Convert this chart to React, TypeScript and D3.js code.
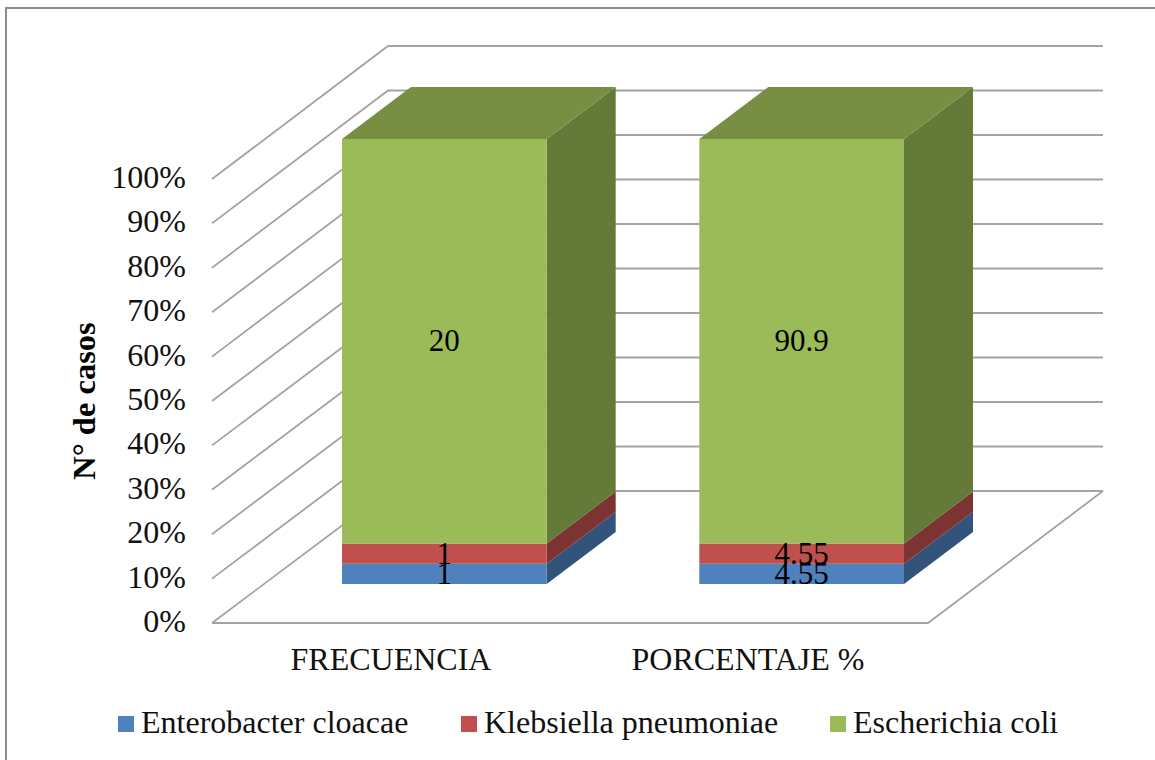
import React from "react";
import * as d3 from "d3";

const categories = ["FRECUENCIA", "PORCENTAJE %"];
const seriesNames = ["Enterobacter cloacae", "Klebsiella pneumoniae", "Escherichia coli"];
const frecuencia = [1, 1, 20];
const porcentaje = [4.55, 4.55, 90.9];
const frontColors = ["#4f81bd", "#c0504d", "#9bbb59"];
const sideColors = ["#33547a", "#7c3331", "#647a38"];
const topColor = "#788f43";
const ticks = d3.range(0, 101, 10);
const font = "'Liberation Serif','Times New Roman',serif";

const dx = 69, dy = -52;

export default function App() {
  const wallY = d3.scaleLinear().domain([0, 100]).range([623, 179]);
  const backY = d3.scaleLinear().domain([0, 100]).range([491, 46]);
  const barY = d3.scaleLinear().domain([0, 100]).range([584, 139]);
  const x = d3.scaleBand().domain(categories).range([342, 904]).paddingInner(152.5 / 357).paddingOuter(0);
  const rows = [frecuencia, porcentaje];
  const stacks = rows.map(r => {
    const total = d3.sum(r);
    let c = 0;
    return r.map(v => { const a = (c / total) * 100; c += v; return { v, a, b: (c / total) * 100 }; });
  });
  const barW = x.bandwidth();
  const labelX = [391, 748];
  const legendX = [118, 461, 830];
  const legendText = [141, 484, 853];
  return (
    <svg width={1155} height={760} style={{ position: "fixed", left: 0, top: 0, background: "#fff" }} fontFamily={font}>
      <path d="M6 760V8H1155" fill="none" stroke="#8c8c8c" strokeWidth={2} />
      {ticks.map(t => (
        <g key={t}>
          <path d={`M212 ${wallY(t)}L388 ${backY(t)}H1103`} fill="none" stroke="#a3a3a3" strokeWidth={1.8} />
          <text x={186} y={wallY(t) + 9} textAnchor="end" fontSize={32} fill="#111">{t}%</text>
        </g>
      ))}
      <path d={`M212 ${wallY(0)}H928L1103 ${backY(0)}`} fill="none" stroke="#a3a3a3" strokeWidth={1.8} />
      {categories.map((c, i) => {
        const X = x(c)!;
        const s = stacks[i];
        return (
          <g key={c}>
            {s.map((d, j) => (
              <g key={j}>
                <path d={`M${X + barW} ${barY(d.a)}l${dx} ${dy}V${barY(d.b) + dy}L${X + barW} ${barY(d.b)}Z`} fill={sideColors[j]} />
                <rect x={X} y={barY(d.b)} width={barW} height={barY(d.a) - barY(d.b)} fill={frontColors[j]} />
              </g>
            ))}
            <path d={`M${X} ${barY(100)}l${dx} ${dy}h${barW}l${-dx} ${-dy}Z`} fill={topColor} />
            {s.map((d, j) => (
              <text key={j} x={X + barW / 2} y={barY((d.a + d.b) / 2) + 10} textAnchor="middle" fontSize={31} fill="#000">{d.v}</text>
            ))}
            <text x={labelX[i]} y={670} textAnchor="middle" fontSize={32} fill="#111">{c}</text>
          </g>
        );
      })}
      <text transform="translate(95,401) rotate(-90)" textAnchor="middle" fontSize={32.5} fontWeight="bold" fill="#000">N° de casos</text>
      {seriesNames.map((n, i) => (
        <g key={n}>
          <rect x={legendX[i]} y={716} width={16} height={16} fill={frontColors[i]} />
          <text x={legendText[i]} y={733} fontSize={32} fill="#111">{n}</text>
        </g>
      ))}
    </svg>
  );
}
